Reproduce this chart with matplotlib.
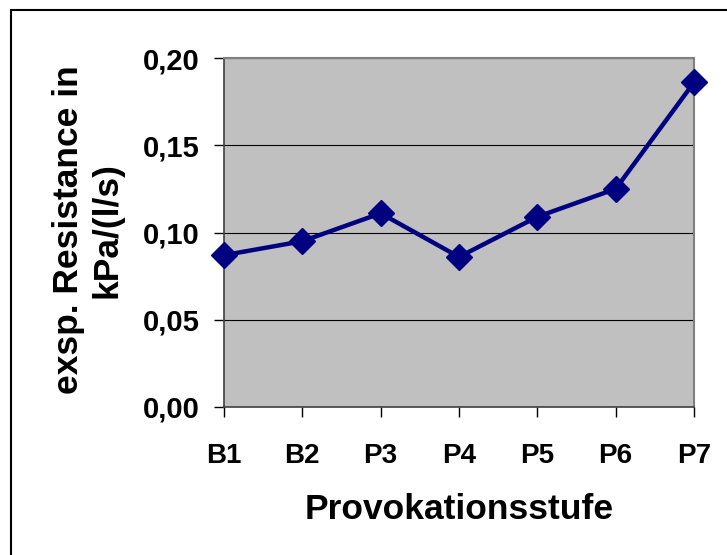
import matplotlib
matplotlib.use("Agg")
import matplotlib.pyplot as plt
from matplotlib.patches import Rectangle
from matplotlib.ticker import FuncFormatter

# Werte pro Provokationsstufe
stufen = ['B1', 'B2', 'P3', 'P4', 'P5', 'P6', 'P7']
resistance = [0.087, 0.095, 0.111, 0.086, 0.109, 0.125, 0.186]
y_ticks = [0.00, 0.05, 0.10, 0.15, 0.20]

plt.rcParams['font.family'] = ['Liberation Sans', 'DejaVu Sans']
plt.rcParams['font.weight'] = 'bold'

fig = plt.figure(figsize=(7.27, 5.55), dpi=100)
ax = fig.add_axes([224 / 727, 1 - 407 / 555, (694 - 224) / 727, (407 - 58) / 555])

# Rahmen um das Diagramm (rechts/unten abgeschnitten)
fig.patches.append(Rectangle((11 / 727, -0.1), 1.2, 1 - 10 / 555 + 0.1,
                             transform=fig.transFigure, fill=False,
                             edgecolor='black', linewidth=1.5))

ax.set_facecolor('#c0c0c0')
x = list(range(len(stufen)))
ax.plot(x, resistance, color='#000080', linewidth=3.2, marker='D',
        markersize=13, clip_on=False, zorder=3)

ax.set_xlim(0, len(stufen) - 1)
ax.set_ylim(0, 0.20)
ax.set_yticks(y_ticks)
ax.yaxis.set_major_formatter(FuncFormatter(lambda v, p: f'{v:.2f}'.replace('.', ',')))
ax.set_xticks(x)
ax.set_xticklabels(stufen)

ax.grid(axis='y', color='black', linewidth=0.8)
ax.set_axisbelow(True)
for side in ['top', 'right']:
    ax.spines[side].set_color('#808080')
    ax.spines[side].set_linewidth(1.5)
ax.spines['left'].set_color('#404040')
ax.spines['bottom'].set_color('#404040')
ax.spines['left'].set_linewidth(1.2)
ax.spines['bottom'].set_linewidth(1.2)

ax.tick_params(axis='both', direction='out', length=7, width=1, colors='black')
ax.tick_params(axis='x', pad=19, labelsize=20)
ax.tick_params(axis='y', pad=10.5, labelsize=21)

ax.set_xlabel('Provokationsstufe', fontsize=25.5, fontweight='bold')
ax.xaxis.label.set_va('center')
ax.xaxis.set_label_coords(0.5, -0.295)
ax.set_ylabel('exsp. Resistance in\nkPa/(l/s)', fontsize=25.5, fontweight='bold')
ax.yaxis.label.set_va('center')
ax.yaxis.set_label_coords(-0.29, 0.507)

fig.savefig('out.png', dpi=100)
